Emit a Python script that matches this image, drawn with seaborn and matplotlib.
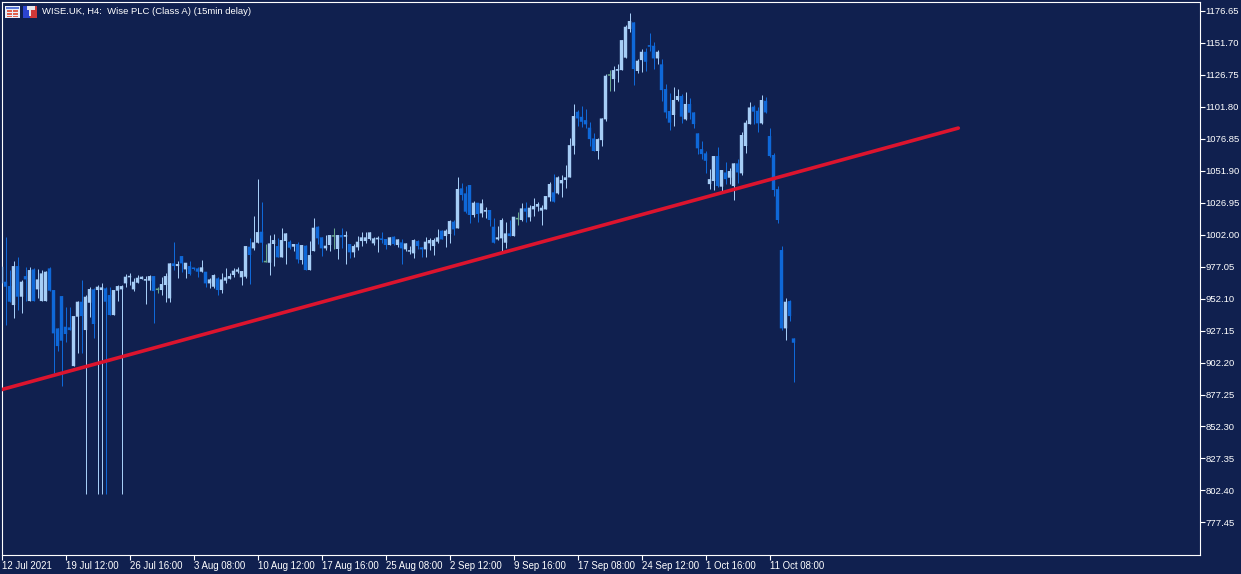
# wise_candles.py
import pandas as pd
import numpy as np
import matplotlib
matplotlib.use('Agg')
import matplotlib.pyplot as plt
from matplotlib.patches import Rectangle
import seaborn as sns

# OHLC, one 4h bar per position
opens = [
    963.9, 965.2, 961.8, 947.0, 977.4, 953.5, 969.6, 950.1, 974.8, 959.2,
    950.1, 950.1, 975.6, 958.7, 928.8, 954.0, 930.1, 929.6, 899.4, 937.9,
    949.6, 927.5, 948.8, 959.2, 958.7, 958.7, 960.0, 954.8, 939.2, 958.2,
    959.2, 963.9, 968.6, 959.2, 964.4, 967.3, 966.0, 966.0, 969.6, 958.7,
    958.7, 962.6, 952.2, 979.5, 977.4, 985.2, 974.8, 977.4, 975.6, 975.6,
    973.0, 973.0, 963.9, 961.3, 967.8, 958.7, 966.0, 967.5, 970.4, 973.0,
    968.6, 969.1, 992.5, 991.2, 995.6, 1004.2, 980.3, 980.0, 994.6, 993.0,
    984.2, 996.9, 996.4, 992.5, 994.6, 982.1, 993.3, 974.3, 989.1, 1008.1,
    999.8, 991.2, 993.8, 1000.3, 990.7, 1001.6, 1000.3, 994.6, 988.1, 992.0,
    996.9, 996.9, 998.5, 995.1, 998.2, 999.0, 998.5, 993.8, 1000.3, 993.8,
    995.9, 990.4, 988.6, 987.3, 996.9, 992.0, 990.4, 995.1, 993.0, 996.4,
    1005.0, 1000.8, 1002.4, 1012.0, 1006.8, 1038.0, 1034.1, 1040.6, 1017.2, 1026.8,
    1018.5, 1019.8, 1021.1, 1008.1, 998.2, 999.0, 995.6, 1002.9, 1000.8, 1013.8,
    1013.3, 1022.4, 1015.4, 1021.6, 1023.7, 1020.6, 1021.6, 1031.0, 1034.9, 1034.1,
    1041.9, 1044.5, 1046.5, 1071.2, 1097.7, 1093.8, 1091.2, 1085.3, 1076.9, 1067.1,
    1075.6, 1091.8, 1125.8, 1123.2, 1129.7, 1130.2, 1139.9, 1162.2, 1167.4, 1129.5,
    1138.0, 1144.5, 1149.7, 1149.2, 1139.3, 1134.7, 1115.4, 1098.3, 1095.2, 1106.9,
    1110.0, 1091.8, 1103.8, 1097.2, 1080.9, 1068.6, 1065.3, 1041.3, 1043.7, 1063.2,
    1039.3, 1050.4, 1046.3, 1039.8, 1057.5, 1049.7, 1071.0, 1088.1, 1101.7, 1098.5,
    1088.7, 1106.3, 1078.8, 1064.0, 1037.4, 989.9, 928.8, 950.1, 921.0,
]
highs = [
    979.5, 999.8, 974.3, 981.3, 984.7, 966.5, 976.4, 976.9, 975.6, 974.8,
    974.3, 973.8, 976.4, 958.7, 928.8, 954.0, 945.2, 945.2, 938.4, 950.1,
    966.5, 954.8, 960.8, 960.0, 962.6, 963.9, 960.8, 960.8, 958.7, 962.6,
    962.6, 970.9, 971.7, 967.8, 970.4, 969.6, 969.6, 970.4, 969.6, 961.3,
    969.1, 971.7, 980.0, 996.4, 981.6, 985.2, 980.0, 981.6, 975.6, 976.4,
    982.1, 973.0, 967.8, 971.2, 968.6, 971.7, 975.6, 972.2, 975.6, 976.9,
    973.5, 993.0, 999.0, 1016.4, 1045.3, 1027.6, 994.6, 1001.6, 1002.4, 999.0,
    1006.8, 1002.9, 997.7, 994.6, 996.4, 993.8, 993.8, 997.2, 1015.1, 1008.9,
    999.8, 1001.6, 1001.6, 1006.8, 1001.6, 1006.8, 1004.7, 994.6, 994.6, 1000.8,
    1003.7, 1003.7, 1003.7, 1000.3, 1001.1, 1003.7, 998.5, 999.8, 1000.8, 998.2,
    998.2, 995.1, 993.0, 998.2, 997.7, 992.0, 999.8, 999.0, 999.0, 1006.0,
    1005.5, 1006.0, 1013.3, 1013.3, 1046.6, 1042.4, 1039.8, 1040.6, 1028.4, 1026.8,
    1029.4, 1023.2, 1021.1, 1014.6, 1008.6, 1014.6, 1012.0, 1013.3, 1015.9, 1019.8,
    1026.3, 1027.6, 1025.0, 1030.7, 1027.6, 1025.0, 1032.0, 1043.2, 1049.2, 1047.6,
    1048.4, 1056.2, 1076.9, 1103.7, 1099.0, 1102.2, 1099.8, 1089.9, 1080.8, 1077.5,
    1092.5, 1126.9, 1130.2, 1133.4, 1134.7, 1153.6, 1165.3, 1174.4, 1167.4, 1138.6,
    1146.6, 1147.1, 1158.8, 1151.8, 1145.8, 1138.8, 1119.1, 1112.0, 1116.7, 1115.2,
    1111.5, 1112.8, 1108.2, 1097.2, 1080.9, 1074.9, 1067.3, 1053.0, 1063.2, 1070.5,
    1052.3, 1058.8, 1053.6, 1057.5, 1060.6, 1081.6, 1091.3, 1105.0, 1103.0, 1101.1,
    1110.8, 1108.9, 1084.8, 1065.8, 1039.8, 993.0, 952.2, 950.9, 921.0,
]
lows = [
    961.3, 931.4, 949.6, 936.6, 943.1, 940.5, 950.4, 950.1, 950.1, 952.2,
    950.1, 950.1, 958.2, 893.7, 911.4, 883.8, 918.4, 927.5, 899.4, 909.3,
    909.3, 799.3, 937.9, 921.0, 799.3, 799.3, 799.3, 939.2, 939.2, 950.4,
    799.3, 961.3, 962.6, 958.2, 963.9, 967.0, 947.8, 958.7, 933.2, 956.6,
    954.8, 949.6, 949.6, 974.3, 967.8, 973.0, 967.8, 970.4, 974.3, 969.1,
    973.0, 961.3, 960.0, 960.0, 954.8, 956.1, 963.9, 967.5, 968.6, 971.7,
    962.6, 967.8, 963.4, 989.9, 995.6, 980.8, 980.3, 970.4, 977.4, 984.2,
    984.2, 979.0, 990.7, 989.4, 980.0, 978.7, 974.3, 974.3, 989.1, 994.6,
    985.2, 989.9, 989.1, 990.4, 982.6, 991.2, 979.0, 983.4, 984.2, 989.9,
    993.0, 995.6, 997.7, 993.8, 988.6, 995.6, 990.4, 993.8, 993.8, 992.0,
    979.0, 989.4, 986.8, 983.9, 990.4, 984.2, 984.2, 989.9, 986.0, 995.1,
    998.2, 992.0, 995.6, 1001.6, 1006.8, 1028.9, 1018.5, 1010.7, 1015.4, 1012.0,
    1015.9, 1014.6, 1008.6, 995.6, 997.7, 989.4, 991.2, 1000.8, 1000.8, 1009.4,
    1012.5, 1012.0, 1012.5, 1016.4, 1020.6, 1009.4, 1021.6, 1028.4, 1027.6, 1033.6,
    1031.0, 1038.0, 1046.5, 1064.7, 1086.8, 1086.0, 1084.7, 1071.2, 1067.1, 1060.8,
    1071.2, 1090.5, 1113.9, 1113.9, 1120.6, 1130.2, 1139.9, 1159.6, 1118.5, 1128.2,
    1128.9, 1129.7, 1145.1, 1131.0, 1134.7, 1106.1, 1093.1, 1083.4, 1086.6, 1106.3,
    1088.7, 1091.3, 1091.8, 1085.3, 1064.7, 1060.6, 1050.2, 1037.2, 1036.7, 1038.7,
    1035.4, 1041.3, 1041.3, 1028.9, 1042.4, 1048.4, 1065.3, 1088.1, 1088.1, 1082.2,
    1088.1, 1096.5, 1062.1, 1032.0, 1011.2, 927.5, 919.7, 934.7, 887.2,
]
closes = [
    976.9, 961.3, 949.6, 977.4, 953.5, 965.2, 967.0, 974.3, 950.1, 967.0,
    971.7, 973.0, 958.2, 924.9, 915.0, 919.2, 924.4, 927.5, 938.4, 949.6,
    938.4, 953.5, 959.5, 932.2, 961.3, 960.8, 949.6, 939.2, 958.7, 961.8,
    961.8, 969.1, 969.6, 965.2, 968.3, 969.1, 967.3, 969.6, 957.9, 958.7,
    963.4, 969.6, 979.5, 977.4, 979.0, 979.5, 980.0, 971.2, 975.1, 973.0,
    976.4, 963.9, 967.0, 970.4, 958.7, 967.0, 968.6, 969.6, 973.8, 974.8,
    973.5, 993.0, 986.0, 995.9, 1003.9, 995.6, 980.3, 995.1, 997.7, 984.2,
    997.7, 1002.9, 991.7, 994.6, 982.6, 993.8, 974.3, 986.0, 1007.3, 999.0,
    991.2, 993.3, 1001.6, 1000.3, 1001.6, 999.8, 1001.6, 988.1, 993.0, 996.4,
    999.8, 999.8, 1003.7, 999.0, 999.5, 997.7, 993.8, 999.8, 994.6, 998.2,
    991.2, 995.1, 989.4, 997.7, 993.0, 990.4, 996.4, 997.7, 997.7, 999.8,
    998.2, 1005.0, 1012.5, 1006.0, 1037.5, 1032.8, 1019.8, 1017.2, 1026.8, 1018.0,
    1026.3, 1021.1, 1013.3, 995.6, 999.8, 1013.3, 1002.9, 1000.8, 1015.9, 1013.8,
    1022.4, 1019.8, 1022.9, 1024.2, 1025.8, 1022.9, 1032.0, 1041.4, 1027.6, 1046.6,
    1044.5, 1046.6, 1071.7, 1094.4, 1092.5, 1089.9, 1087.9, 1076.4, 1067.1, 1076.4,
    1092.5, 1125.8, 1125.8, 1130.2, 1131.0, 1153.6, 1164.0, 1168.5, 1131.0, 1137.5,
    1144.5, 1136.7, 1148.4, 1139.3, 1144.5, 1114.6, 1097.2, 1089.2, 1106.9, 1110.0,
    1093.9, 1103.8, 1097.0, 1088.1, 1069.2, 1064.7, 1059.5, 1045.2, 1063.2, 1039.8,
    1052.3, 1045.2, 1051.5, 1057.5, 1050.4, 1079.6, 1089.2, 1101.1, 1097.8, 1088.7,
    1106.9, 1097.2, 1063.2, 1036.7, 1013.3, 928.8, 949.6, 938.4, 917.6,
]

# trend line drawn on the chart
trend_bars = [-0.4, 239.2]
trend_prices = [880.7, 1085.0]

date_tick_bars = [0, 16, 32, 48, 64, 80, 96, 112, 128, 144, 160, 176, 192]
date_tick_labels = [
    '12 Jul 2021', '19 Jul 12:00', '26 Jul 16:00', '3 Aug 08:00', '10 Aug 12:00',
    '17 Aug 16:00', '25 Aug 08:00', '2 Sep 12:00', '9 Sep 16:00', '17 Sep 08:00',
    '24 Sep 12:00', '1 Oct 16:00', '11 Oct 08:00',
]
price_ticks = [
    777.45, 802.40, 827.35, 852.30, 877.25, 902.20, 927.15, 952.10, 977.05,
    1002.00, 1026.95, 1051.90, 1076.85, 1101.80, 1126.75, 1151.70, 1176.65,
]

BG = '#10204f'
UP = '#a6cdf6'
DOWN = '#0f68d8'
DOJI = '#6aa88e'
TREND = '#dc142e'
FONT = 'Liberation Sans'
W, H = 1241, 574


def px_rect(fig, x, y, w, h, color):
    # small header icons, given in picture pixels
    fig.add_artist(Rectangle((x / W, 1 - (y + h) / H), w / W, h / H,
                             transform=fig.transFigure, facecolor=color,
                             edgecolor='none'))


def draw_icons(fig):
    px_rect(fig, 5, 6, 15, 12, '#e8eef8')
    px_rect(fig, 6, 7, 13, 2, '#5a78d8')
    for row_y in (10, 13, 15.5):
        px_rect(fig, 7, row_y, 5, 1.6, '#e0604c')
        px_rect(fig, 13, row_y, 5, 1.6, '#e0604c')
    px_rect(fig, 23, 6, 7, 12, '#2c44d0')
    px_rect(fig, 30, 6, 7, 12, '#d03838')
    px_rect(fig, 27, 6, 8, 4, '#e4e4ea')
    px_rect(fig, 29, 10, 2, 6, '#e4e4ea')


def main():
    sns.set_style('dark', {'axes.facecolor': BG, 'figure.facecolor': BG,
                           'axes.edgecolor': 'white', 'xtick.color': 'white',
                           'ytick.color': 'white', 'text.color': 'white'})
    plt.rcParams['font.family'] = [FONT, 'DejaVu Sans']

    bars = pd.DataFrame({'open': opens, 'high': highs, 'low': lows, 'close': closes})
    bars['bar'] = np.arange(len(bars))
    bars['colour'] = np.where(bars['close'] > bars['open'], UP,
                              np.where(bars['close'] < bars['open'], DOWN, DOJI))
    bars['body_low'] = bars[['open', 'close']].min(axis=1)
    bars['body_size'] = (bars['close'] - bars['open']).abs()

    fig = plt.figure(figsize=(W / 100, H / 100), dpi=100, facecolor=BG)
    ax = fig.add_axes([1.5 / W, 1 - 555 / H, 1198 / W, 553.5 / H])
    ax.set_xlim(0, 299.5)
    ax.set_ylim(752.1, 1183.7)

    ax.vlines(bars['bar'], bars['low'], bars['high'], colors=bars['colour'],
              linewidth=0.72, zorder=2)
    # no snapping here, it made the bodies come out in uneven widths
    ax.bar(bars['bar'], bars['body_size'].clip(lower=1.2), bottom=bars['body_low'],
           width=0.85, color=bars['colour'], linewidth=0, zorder=3, snap=False)

    trend = pd.DataFrame({'bar': trend_bars, 'price': trend_prices})
    sns.lineplot(data=trend, x='bar', y='price', color=TREND, linewidth=2.6,
                 ax=ax, zorder=4)

    ax.yaxis.tick_right()
    ax.set_yticks(price_ticks)
    ax.set_yticklabels([f'{p:.2f}' for p in price_ticks], fontsize=6.8)
    ax.set_xticks(date_tick_bars)
    ax.set_xticklabels(date_tick_labels, fontsize=6.9, ha='left')
    ax.tick_params(axis='both', length=3.6, width=0.8, color='white',
                   labelcolor='white', pad=0.6, bottom=True, right=True)
    ax.set_xlabel('')
    ax.set_ylabel('')
    ax.grid(False)
    for spine in ax.spines.values():
        spine.set_color('white')
        spine.set_linewidth(0.8)

    draw_icons(fig)
    fig.text(42 / W, 1 - 11.5 / H, 'WISE.UK, H4:  Wise PLC (Class A) (15min delay)',
             fontsize=6.8, color='white', va='center', ha='left')

    fig.savefig('out.png', dpi=100, facecolor=BG)


if __name__ == '__main__':
    main()
